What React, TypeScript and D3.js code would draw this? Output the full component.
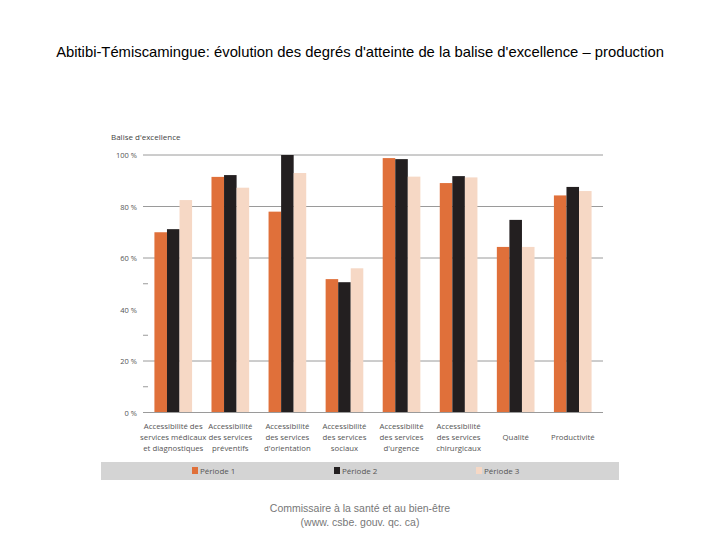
import React from "react";
import * as d3 from "d3";

const categories: string[][] = [
  ["Accessibilité des", "services médicaux", "et diagnostiques"],
  ["Accessibilité", "des services", "préventifs"],
  ["Accessibilité", "des services", "d'orientation"],
  ["Accessibilité", "des services", "sociaux"],
  ["Accessibilité", "des services", "d'urgence"],
  ["Accessibilité", "des services", "chirurgicaux"],
  ["Qualité"],
  ["Productivité"],
];
const periode1 = [70, 91.5, 78, 51.8, 98.8, 89.1, 64.3, 84.3];
const periode2 = [71.2, 92.2, 100, 50.6, 98.4, 91.8, 74.8, 87.6];
const periode3 = [82.5, 87.3, 93, 56, 91.6, 91.3, 64.3, 86];
const seriesNames = ["Période 1", "Période 2", "Période 3"];
const seriesColors = ["#E0703A", "#231F20", "#F6D8C5"];
const majorTicks = [0, 20, 40, 60, 80, 100];
const gridTicks = [20, 60, 80, 100];
const minorTicks = [10, 30, 50];

export default function App() {
  const series = [periode1, periode2, periode3];
  const x0 = d3
    .scaleBand<number>()
    .domain(categories.map((_, i) => i))
    .range([143, 603])
    .paddingInner(0.34)
    .paddingOuter(0.2);
  const x1 = d3.scaleBand<number>().domain([0, 1, 2]).range([0, x0.bandwidth()]);
  const y = d3.scaleLinear().domain([0, 100]).range([412.5, 155]);
  const font = "'Open Sans', 'DejaVu Sans', sans-serif";

  return (
    <svg width={720} height={540} style={{ position: "absolute", left: 0, top: 0 }}>
      <rect width={720} height={540} fill="#fff" />
      <text
        x={360}
        y={57}
        textAnchor="middle"
        fontFamily="'Liberation Sans', Arial, sans-serif"
        fontSize={14.8}
        fill="#000"
      >
        Abitibi-Témiscamingue: évolution des degrés d'atteinte de la balise d'excellence – production
      </text>

      <text x={111} y={140} fontFamily={font} fontSize={8} fill="#444">
        Balise d'excellence
      </text>

      {gridTicks.map((t) => (
        <line key={"g" + t} x1={143} x2={603} y1={y(t)} y2={y(t)} stroke="#9a9a9a" strokeWidth={1} />
      ))}
      {minorTicks.map((t) => (
        <line key={"m" + t} x1={143} x2={148} y1={y(t)} y2={y(t)} stroke="#9a9a9a" strokeWidth={1} />
      ))}
      {majorTicks.map((t) => (
        <text
          key={"t" + t}
          x={137}
          y={y(t) + 3}
          textAnchor="end"
          fontFamily={font}
          fontSize={7.5}
          fill="#555"
        >
          {t} %
        </text>
      ))}

      {categories.map((_, i) =>
        series.map((s, j) => (
          <rect
            key={`b${i}-${j}`}
            x={(x0(i) as number) + (x1(j) as number)}
            y={y(s[i])}
            width={x1.bandwidth()}
            height={y(0) - y(s[i])}
            fill={seriesColors[j]}
          />
        ))
      )}
      <line x1={143} x2={603} y1={y(0)} y2={y(0)} stroke="#9a9a9a" strokeWidth={1} />

      {categories.map((lines, i) => {
        const cx = (x0(i) as number) + x0.bandwidth() / 2;
        const startY = lines.length === 1 ? 440 : 429;
        return (
          <text key={"c" + i} textAnchor="middle" fontFamily={font} fontSize={7.8} fill="#555">
            {lines.map((l, k) => (
              <tspan key={k} x={cx} y={startY + k * 11}>
                {l}
              </tspan>
            ))}
          </text>
        );
      })}

      <rect x={101} y={462} width={518} height={18} fill="#D4D4D4" />
      {seriesNames.map((n, j) => (
        <g key={"l" + j} transform={`translate(${192 + j * 142},0)`}>
          <rect x={0} y={467} width={6} height={7} fill={seriesColors[j]} />
          <text x={8} y={474} fontFamily={font} fontSize={8} fill="#555">
            {n}
          </text>
        </g>
      ))}

      <text
        x={360}
        y={512}
        textAnchor="middle"
        fontFamily="'Liberation Sans', Arial, sans-serif"
        fontSize={10.5}
        fill="#777"
      >
        Commissaire à la santé et au bien-être
      </text>
      <text
        x={360}
        y={526}
        textAnchor="middle"
        fontFamily="'Liberation Sans', Arial, sans-serif"
        fontSize={10.5}
        fill="#777"
      >
        (www. csbe. gouv. qc. ca)
      </text>
    </svg>
  );
}
